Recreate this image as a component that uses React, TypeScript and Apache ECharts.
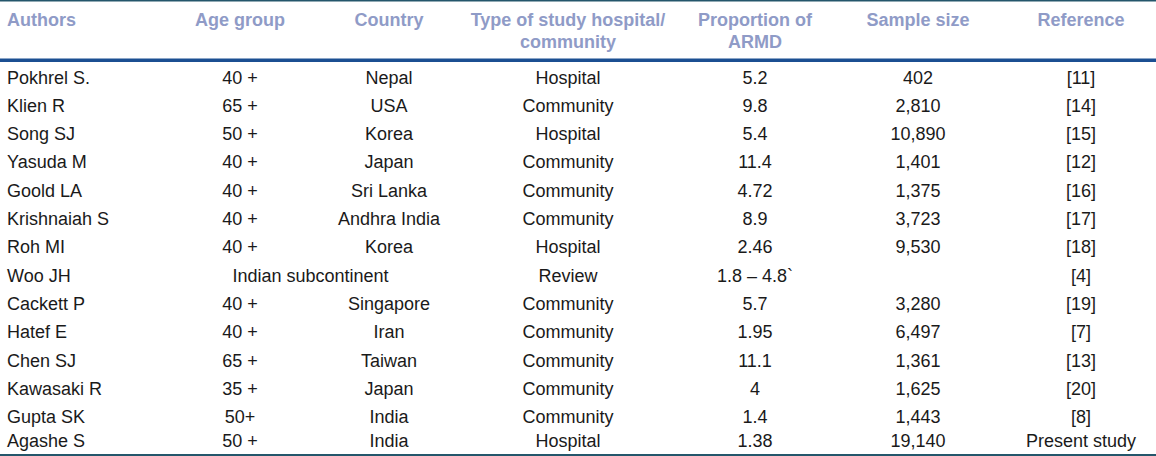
import React, { useEffect, useRef } from "react";
import * as echarts from "echarts";

const headers = [
  ["Authors"],
  ["Age group"],
  ["Country"],
  ["Type of study hospital/", "community"],
  ["Proportion of", "ARMD"],
  ["Sample size"],
  ["Reference"],
];

const authors = ["Pokhrel S.", "Klien R", "Song SJ", "Yasuda M", "Goold LA", "Krishnaiah S", "Roh MI", "Woo JH", "Cackett P", "Hatef E", "Chen SJ", "Kawasaki R", "Gupta SK", "Agashe S"];
const ageGroups = ["40 +", "65 +", "50 +", "40 +", "40 +", "40 +", "40 +", "", "40 +", "40 +", "65 +", "35 +", "50+", "50 +"];
const countries = ["Nepal", "USA", "Korea", "Japan", "Sri Lanka", "Andhra India", "Korea", "", "Singapore", "Iran", "Taiwan", "Japan", "India", "India"];
const studyTypes = ["Hospital", "Community", "Hospital", "Community", "Community", "Community", "Hospital", "Review", "Community", "Community", "Community", "Community", "Community", "Hospital"];
const proportions = ["5.2", "9.8", "5.4", "11.4", "4.72", "8.9", "2.46", "1.8 – 4.8`", "5.7", "1.95", "11.1", "4", "1.4", "1.38"];
const sampleSizes = ["402", "2,810", "10,890", "1,401", "1,375", "3,723", "9,530", "", "3,280", "6,497", "1,361", "1,625", "1,443", "19,140"];
const references = ["[11]", "[14]", "[15]", "[12]", "[16]", "[17]", "[18]", "[4]", "[19]", "[7]", "[13]", "[20]", "[8]", "Present study"];
const mergedRow = 7;
const mergedText = "Indian subcontinent";

export default function App() {
  const ref = useRef<HTMLDivElement>(null);
  useEffect(() => {
    document.body.style.margin = "0";
    const chart = echarts.init(ref.current!, null, { renderer: "svg" });
    const W = 1156;
    const font = "Liberation Sans, Arial, sans-serif";
    const colX = [7, 240, 389, 568, 755, 918, 1081];
    const headColor = "#8f9bc7";
    const bodyColor = "#1a1a1a";
    const fs = 18;
    const els: any[] = [];
    const txt = (x: number, y: number, t: string, align: string, bold: boolean, color: string) => {
      els.push({
        type: "text",
        x,
        y,
        silent: true,
        style: {
          text: t,
          fontFamily: font,
          fontSize: fs,
          fontWeight: bold ? "bold" : "normal",
          fill: color,
          align,
          verticalAlign: "middle",
          textAlign: align,
          textVerticalAlign: "middle",
        },
      });
    };
    headers.forEach((lines, c) => {
      lines.forEach((l, i) => txt(colX[c], 20 + i * 22, l, c === 0 ? "left" : "center", true, headColor));
    });
    const rowY = (r: number) => (r < 13 ? 77.5 + r * 28.3 : 441);
    const cols = [authors, ageGroups, countries, studyTypes, proportions, sampleSizes, references];
    for (let r = 0; r < authors.length; r++) {
      const y = rowY(r);
      cols.forEach((arr, c) => {
        if (arr[r]) txt(colX[c], y, arr[r], c === 0 ? "left" : "center", false, bodyColor);
      });
      if (r === mergedRow) txt((colX[1] + colX[2]) / 2 - 4, y, mergedText, "center", false, bodyColor);
    }
    els.push({ type: "rect", shape: { x: 0, y: 0, width: W, height: 1.5 }, style: { fill: "#24566b" }, silent: true });
    els.push({ type: "rect", shape: { x: 0, y: 58.5, width: W, height: 3.5 }, style: { fill: "#1b4f92" }, silent: true });
    els.push({ type: "rect", shape: { x: 0, y: 454, width: W, height: 2 }, style: { fill: "#24566b" }, silent: true });
    chart.setOption({ animation: false, backgroundColor: "#ffffff", graphic: { elements: els } });
    return () => chart.dispose();
  }, []);
  return <div ref={ref} style={{ width: 1156, height: 456 }} />;
}
